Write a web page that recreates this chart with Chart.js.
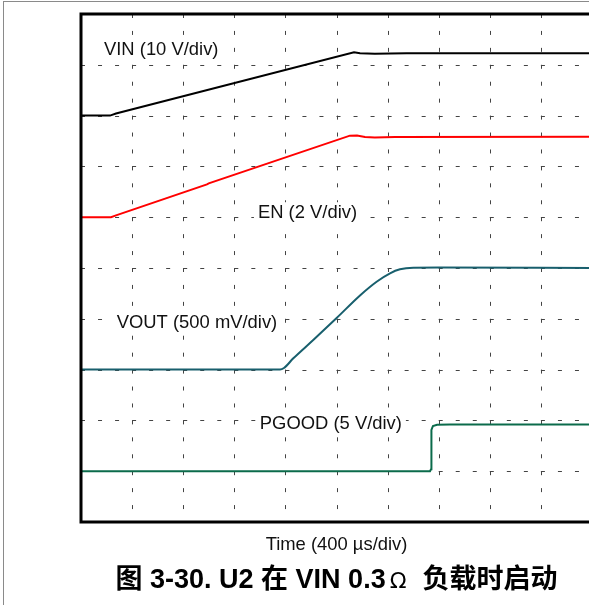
<!DOCTYPE html>
<html>
<head>
<meta charset="utf-8">
<script src="https://cdn.jsdelivr.net/npm/chart.js@4.4.0/dist/chart.umd.min.js"></script>
<style>
html, body { margin: 0; padding: 0; background: #fff; overflow: hidden; width: 589px; height: 605px; }
#border { position: absolute; left: 3px; top: 1px; width: 700px; height: 700px; border-left: 1px solid #8a8a8a; border-top: 1px solid #8a8a8a; }
#scope { position: absolute; left: 0; top: 0; }
</style>
</head>
<body>
<div id="border"></div>
<canvas id="scope" width="600" height="605"></canvas>
<script>
// scope settings (from the labels)
const timePerDiv = 400;            // µs/div
const divsX = 10, divsY = 10;

// channel settings: volts per div and ground level (in divisions from bottom)
const channels = ['VIN', 'EN', 'VOUT', 'PGOOD'];
const voltsPerDiv = [10, 2, 0.5, 5];
const groundDiv = [8, 6, 3, 1];
const traceColors = ['#000000', '#ff0000', '#185f6d', '#0b6b4b'];
const channelLabels = ['VIN (10 V/div)', 'EN (2 V/div)', 'VOUT (500 mV/div)', 'PGOOD (5 V/div)'];

// traces: time in µs, value in volts
const vinTime = [0, 227, 274, 2137, 2184, 2300, 2420, 2550, 4000];
const vinVolts = [0, 0, 0.4, 12.46, 12.26, 12.18, 12.24, 12.26, 12.26];

const enTime = [0, 235, 274, 986, 1000, 2105, 2160, 2223, 2300, 2458, 4000];
const enVolts = [0, 0, 0.07, 1.29, 1.33, 3.21, 3.22, 3.16, 3.14, 3.16, 3.17];

const voutTime = [0, 1558, 1589, 1662, 1818, 2001, 2184, 2314, 2419, 2497, 2601, 2800, 4000];
const voutVolts = [0, 0, 0.016, 0.111, 0.291, 0.508, 0.73, 0.865, 0.948, 0.987, 1.003, 1.005, 1.0];

const pgoodTime = [0, 2732, 2740, 2743, 2755, 2787, 2888, 4000];
const pgoodVolts = [0, 0, 0.2, 4.06, 4.45, 4.57, 4.6, 4.6];

const traceTimes = [vinTime, enTime, voutTime, pgoodTime];
const traceVolts = [vinVolts, enVolts, voutVolts, pgoodVolts];

// where each channel label sits (time µs, divisions) - annotation only
const labelTime = [180, 1385, 280, 1400];
const labelDiv = [9.2, 5.98, 3.82, 1.83];

const xTitle = 'Time (400 µs/div)';
const captionParts = ['图 3-30. U2 在 VIN 0.3', 'Ω', '负载时启动'];

const datasets = channels.map((name, c) => ({
    label: name,
    data: traceTimes[c].map((t, i) => ({ x: t, y: groundDiv[c] + traceVolts[c][i] / voltsPerDiv[c] })),
    borderColor: traceColors[c],
    backgroundColor: traceColors[c],
    borderWidth: 2,
    pointRadius: 0,
    tension: 0,
    cubicInterpolationMode: name === 'VOUT' ? 'monotone' : 'default',
    fill: false
}));

const scopeDecor = {
    id: 'scopeDecor',
    beforeDatasetsDraw(chart) {
        const { ctx, chartArea: a, scales: { x, y } } = chart;
        const px = (a.right - a.left) / divsX / 3;
        const py = (a.bottom - a.top) / divsY / 3;
        ctx.save();
        ctx.strokeStyle = '#444';
        ctx.lineWidth = 1;
        for (let i = 1; i < divsX; i++) {
            const xp = Math.round(x.getPixelForValue(i * timePerDiv)) + 0.5;
            ctx.setLineDash([4, py - 4]);
            ctx.beginPath();
            ctx.moveTo(xp, a.top);
            ctx.lineTo(xp, a.bottom);
            ctx.stroke();
        }
        for (let i = 1; i < divsY; i++) {
            const yp = Math.round(y.getPixelForValue(i)) + 0.5;
            ctx.setLineDash([4, px - 4]);
            ctx.beginPath();
            ctx.moveTo(a.left, yp);
            ctx.lineTo(a.right, yp);
            ctx.stroke();
        }
        ctx.setLineDash([]);

        // channel labels on a white patch over the grid
        ctx.font = '18.4px "Liberation Sans", Arial, sans-serif';
        ctx.textBaseline = 'alphabetic';
        ctx.textAlign = 'left';
        channelLabels.forEach((txt, c) => {
            const tx = x.getPixelForValue(labelTime[c]);
            const ty = y.getPixelForValue(labelDiv[c]);
            const w = ctx.measureText(txt).width;
            ctx.fillStyle = '#fff';
            ctx.fillRect(tx - 4, ty - 16, w + 8, 22);
            ctx.fillStyle = '#111';
            ctx.fillText(txt, tx, ty);
        });
        ctx.restore();
    },
    afterDraw(chart) {
        const { ctx, chartArea: a } = chart;
        ctx.save();
        // frame
        ctx.strokeStyle = '#000';
        ctx.lineWidth = 3;
        ctx.beginPath();
        ctx.moveTo(a.right + 5, a.top);
        ctx.lineTo(a.left, a.top);
        ctx.lineTo(a.left, a.bottom);
        ctx.lineTo(a.right + 5, a.bottom);
        ctx.stroke();

        // x title
        const cx = (a.left + a.right) / 2;
        ctx.fillStyle = '#111';
        ctx.font = '18.4px "Liberation Sans", Arial, sans-serif';
        ctx.textAlign = 'center';
        ctx.textBaseline = 'alphabetic';
        ctx.fillText(xTitle, cx, a.bottom + 28);

        // caption: bold text, a lighter omega, gaps around it
        const fonts = [
            'bold 27px "Liberation Sans", "Noto Sans CJK SC", sans-serif',
            '22px "DejaVu Sans", sans-serif',
            'bold 27px "Noto Sans CJK SC", sans-serif'
        ];
        const gaps = [4, 16, 0];
        ctx.textAlign = 'left';
        ctx.fillStyle = '#000';
        const widths = captionParts.map((p, i) => { ctx.font = fonts[i]; return ctx.measureText(p).width; });
        const total = widths.reduce((s, w, i) => s + w + gaps[i], 0);
        let xp = cx - total / 2;
        captionParts.forEach((p, i) => {
            ctx.font = fonts[i];
            ctx.fillText(p, xp, a.bottom + 66);
            xp += widths[i] + gaps[i];
        });
        ctx.restore();
    }
};

new Chart(document.getElementById('scope'), {
    type: 'line',
    data: { datasets: datasets },
    options: {
        responsive: false,
        animation: false,
        devicePixelRatio: 1,
        layout: { padding: { left: 81, top: 14, right: 8, bottom: 83 } },
        plugins: { legend: { display: false }, tooltip: { enabled: false } },
        scales: {
            x: { type: 'linear', min: 0, max: divsX * timePerDiv, display: false },
            y: { type: 'linear', min: 0, max: divsY, display: false }
        }
    },
    plugins: [scopeDecor]
});
</script>
</body>
</html>
